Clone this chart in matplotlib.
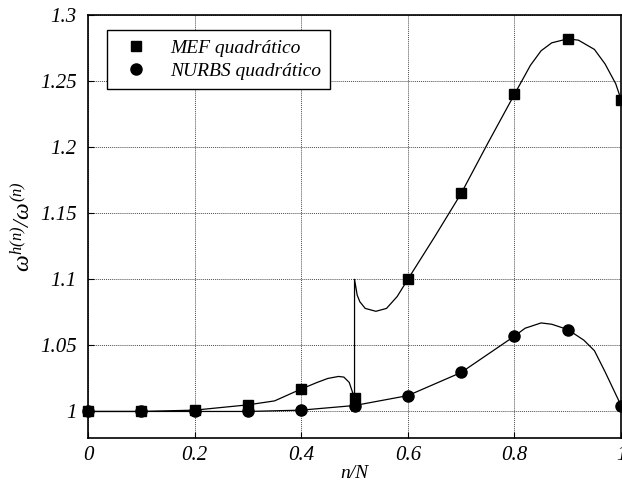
import matplotlib.pyplot as plt

# marker values at n/N = 0, 0.1, ..., 1
n_mark = [0.0, 0.1, 0.2, 0.3, 0.4, 0.5, 0.6, 0.7, 0.8, 0.9, 1.0]
mef_mark = [1.0, 1.0, 1.001, 1.005, 1.017, 1.010, 1.100, 1.165, 1.240, 1.282, 1.236]
nurbs_mark = [1.0, 1.0, 1.0, 1.0, 1.001, 1.0045, 1.012, 1.0295, 1.057, 1.062, 1.0045]

# continuous curves
mef_x = [0.0, 0.1, 0.2, 0.3, 0.35, 0.4, 0.43, 0.45, 0.47, 0.48, 0.49, 0.5,
         0.5, 0.505, 0.51, 0.52, 0.54, 0.56, 0.58, 0.6, 0.65, 0.7, 0.75, 0.8,
         0.83, 0.85, 0.87, 0.9, 0.92, 0.95, 0.97, 0.99, 1.0]
mef_y = [1.0, 1.0, 1.001, 1.005, 1.008, 1.017, 1.022, 1.025, 1.0265, 1.026, 1.022, 1.010,
         1.100, 1.088, 1.083, 1.078, 1.0758, 1.078, 1.087, 1.100, 1.132, 1.165, 1.203, 1.240,
         1.262, 1.273, 1.279, 1.282, 1.281, 1.274, 1.263, 1.248, 1.236]
nurbs_x = [0.0, 0.1, 0.2, 0.3, 0.4, 0.5, 0.6, 0.7, 0.8, 0.82, 0.85, 0.87, 0.9,
           0.93, 0.95, 0.97, 0.99, 1.0]
nurbs_y = [1.0, 1.0, 1.0, 1.0, 1.001, 1.0045, 1.012, 1.0295, 1.057, 1.063, 1.067, 1.066, 1.062,
           1.054, 1.046, 1.030, 1.013, 1.0045]

xticks = [0, 0.2, 0.4, 0.6, 0.8, 1]
xtick_labels = ['0', '0.2', '0.4', '0.6', '0.8', '1']
yticks = [1.0, 1.05, 1.1, 1.15, 1.2, 1.25, 1.3]
ytick_labels = ['1', '1.05', '1.1', '1.15', '1.2', '1.25', '1.3']

plt.rcParams['font.family'] = 'Liberation Serif'
plt.rcParams['font.style'] = 'italic'
plt.rcParams['mathtext.fontset'] = 'custom'
plt.rcParams['mathtext.it'] = 'Liberation Serif:italic'
plt.rcParams['mathtext.rm'] = 'Liberation Serif:italic'

fig = plt.figure(figsize=(6.22, 4.86), dpi=100)
ax = fig.add_axes([0.1415, 0.099, 0.857, 0.870])

ax.plot(mef_x, mef_y, color='black', lw=0.9)
ax.plot(nurbs_x, nurbs_y, color='black', lw=0.9)
ax.plot(n_mark, mef_mark, 's', color='black', ms=7, label='MEF quadrático', clip_on=False)
ax.plot(n_mark, nurbs_mark, 'o', color='black', ms=8, label='NURBS quadrático', clip_on=False)

ax.set_xlim(0, 1)
ax.set_ylim(0.98, 1.3)
ax.set_xticks(xticks)
ax.set_xticklabels(xtick_labels)
ax.set_yticks(yticks)
ax.set_yticklabels(ytick_labels)
ax.tick_params(axis='x', direction='in', length=4, labelsize=15, pad=6)
ax.tick_params(axis='y', direction='in', length=4, labelsize=15, pad=8)
ax.grid(True, color='black', linestyle=(0, (1, 1)), linewidth=0.7, alpha=0.7)
for s in ax.spines.values():
    s.set_linewidth(1.2)

ax.set_xlabel('n/N', fontsize=14, labelpad=0)
ax.set_ylabel(r'$\omega^{h(n)}/\omega^{(n)}$', fontsize=17, labelpad=4)

leg = ax.legend(loc='upper left', bbox_to_anchor=(0.018, 0.987), fontsize=14,
                frameon=True, fancybox=False, edgecolor='black', framealpha=1,
                borderpad=0.45, handletextpad=0.8, labelspacing=0.3)
leg.get_frame().set_linewidth(1.0)

plt.savefig('out.png', dpi=100)
